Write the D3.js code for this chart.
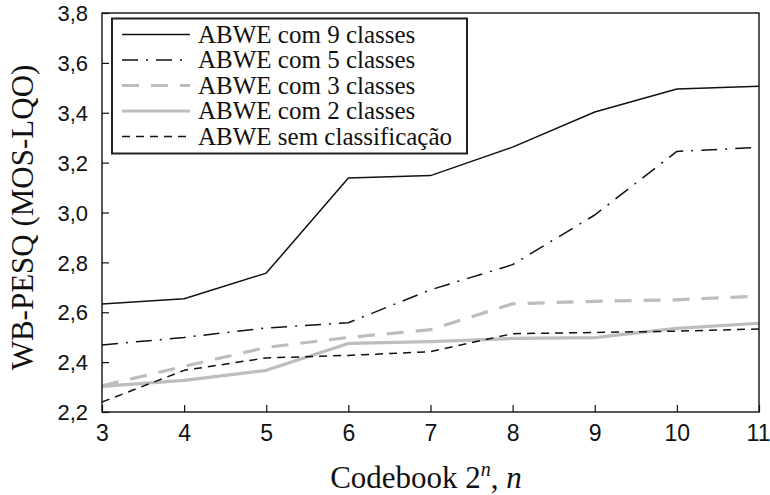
<!DOCTYPE html>
<html>
<head>
<meta charset="utf-8">
<script src="https://cdn.jsdelivr.net/npm/d3@7"></script>
<style>
  html, body { margin: 0; padding: 0; background: #fff; }
  svg { display: block; }
</style>
</head>
<body>
<svg id="chart" width="770" height="495"></svg>
<script>
// Codebook size exponent n (codebook of 2^n vectors)
const codebookBits = [3, 4, 5, 6, 7, 8, 9, 10, 11];

// WB-PESQ scores per configuration
const abwe9  = [2.633, 2.654, 2.757, 3.138, 3.148, 3.262, 3.403, 3.495, 3.506];
const abwe5  = [2.469, 2.499, 2.537, 2.558, 2.690, 2.791, 2.990, 3.245, 3.261];
const abwe3  = [2.305, 2.383, 2.459, 2.499, 2.530, 2.634, 2.644, 2.650, 2.665];
const abwe2  = [2.303, 2.327, 2.367, 2.475, 2.482, 2.495, 2.498, 2.535, 2.556];
const abweNC = [2.240, 2.367, 2.417, 2.427, 2.442, 2.514, 2.519, 2.524, 2.533];

const seriesNames = [
  "ABWE com 9 classes",
  "ABWE com 5 classes",
  "ABWE com 3 classes",
  "ABWE com 2 classes",
  "ABWE sem classificação"
];

const yTicks = [2.2, 2.4, 2.6, 2.8, 3.0, 3.2, 3.4, 3.6, 3.8];
const xTicks = [3, 4, 5, 6, 7, 8, 9, 10, 11];

const styles = [
  { color: "#111", width: 1.5, dash: null },
  { color: "#111", width: 1.5, dash: "16,8,2,8" },
  { color: "#bdbdbd", width: 3.2, dash: "17,12" },
  { color: "#bdbdbd", width: 3.2, dash: null },
  { color: "#111", width: 1.5, dash: "8,6" }
];

const seriesData = [abwe9, abwe5, abwe3, abwe2, abweNC];

const svg = d3.select("#chart");
const plotL = 102, plotR = 759, plotT = 13, plotB = 412;

const x = d3.scaleLinear().domain([3, 11]).range([plotL, plotR]);
const y = d3.scaleLinear().domain([2.2, 3.8]).range([plotB, plotT]);

const fmt = d => d3.format(".1f")(d).replace(".", ",");

// Series lines
const line = d3.line()
  .x((d, i) => x(codebookBits[i]))
  .y(d => y(d));

const plot = svg.append("g");
plot.append("clipPath").attr("id", "clip")
  .append("rect").attr("x", plotL).attr("y", plotT)
  .attr("width", plotR - plotL).attr("height", plotB - plotT);

// grey series first, black ones on top
[2, 3, 0, 1, 4].forEach(k => {
  plot.append("path")
    .datum(seriesData[k])
    .attr("clip-path", "url(#clip)")
    .attr("fill", "none")
    .attr("stroke", styles[k].color)
    .attr("stroke-width", styles[k].width)
    .attr("stroke-dasharray", styles[k].dash)
    .attr("stroke-linejoin", "round")
    .attr("d", line);
});

// Axes
const yAxis = d3.axisLeft(y).tickValues(yTicks).tickFormat(fmt)
  .tickSizeInner(-7).tickSizeOuter(0).tickPadding(14);
const xAxis = d3.axisBottom(x).tickValues(xTicks).tickFormat(d3.format("d"))
  .tickSizeInner(-7).tickSizeOuter(0).tickPadding(12);

const gy = svg.append("g").attr("transform", `translate(${plotL},0)`).call(yAxis);
const gx = svg.append("g").attr("transform", `translate(0,${plotB})`).call(xAxis);

[gx, gy].forEach(g => {
  g.select(".domain").remove();
  g.selectAll(".tick line").attr("stroke", "#111").attr("stroke-width", 1.2);
  g.selectAll(".tick text")
    .attr("fill", "#111")
    .style("font-family", "Arial, 'Liberation Sans', sans-serif");
});
gy.selectAll(".tick text").style("font-size", "22px").attr("dy", "0.35em");
gx.selectAll(".tick text").style("font-size", "23px").attr("dy", "0.72em");
// keep the last x label inside the page
gx.selectAll(".tick text").filter(d => d === 11).attr("text-anchor", "end").attr("dx", 11);

// Frame
svg.append("rect")
  .attr("x", plotL).attr("y", plotT)
  .attr("width", plotR - plotL).attr("height", plotB - plotT)
  .attr("fill", "none").attr("stroke", "#111").attr("stroke-width", 1.4);

// Legend
const lg = svg.append("g");
lg.append("rect")
  .attr("x", 112).attr("y", 18.5)
  .attr("width", 355).attr("height", 135)
  .attr("fill", "#fff").attr("stroke", "#222").attr("stroke-width", 2);

seriesNames.forEach((name, i) => {
  const yy = 34.5 + i * 25.5;
  lg.append("line")
    .attr("x1", 122).attr("x2", 190)
    .attr("y1", yy).attr("y2", yy)
    .attr("stroke", styles[i].color)
    .attr("stroke-width", styles[i].width)
    .attr("stroke-dasharray", styles[i].dash);
  lg.append("text")
    .attr("x", 198).attr("y", yy)
    .attr("dy", "0.33em")
    .style("font-family", "'Times New Roman', 'Liberation Serif', serif")
    .style("font-size", "25px")
    .attr("fill", "#111")
    .text(name);
});

// Axis titles
svg.append("text")
  .attr("transform", `translate(33,${(plotT + plotB) / 2 + 5}) rotate(-90)`)
  .attr("text-anchor", "middle")
  .style("font-family", "'Times New Roman', 'Liberation Serif', serif")
  .style("font-size", "31px")
  .attr("fill", "#111")
  .text("WB-PESQ (MOS-LQO)");

const xt = svg.append("text")
  .attr("x", 426).attr("y", 488)
  .attr("text-anchor", "middle")
  .style("font-family", "'Times New Roman', 'Liberation Serif', serif")
  .style("font-size", "31px")
  .attr("fill", "#111");
xt.append("tspan").text("Codebook 2");
xt.append("tspan").attr("dy", -12).style("font-size", "20px").style("font-style", "italic").text("n");
xt.append("tspan").attr("dy", 12).text(", ");
xt.append("tspan").style("font-style", "italic").text("n");
</script>
</body>
</html>
